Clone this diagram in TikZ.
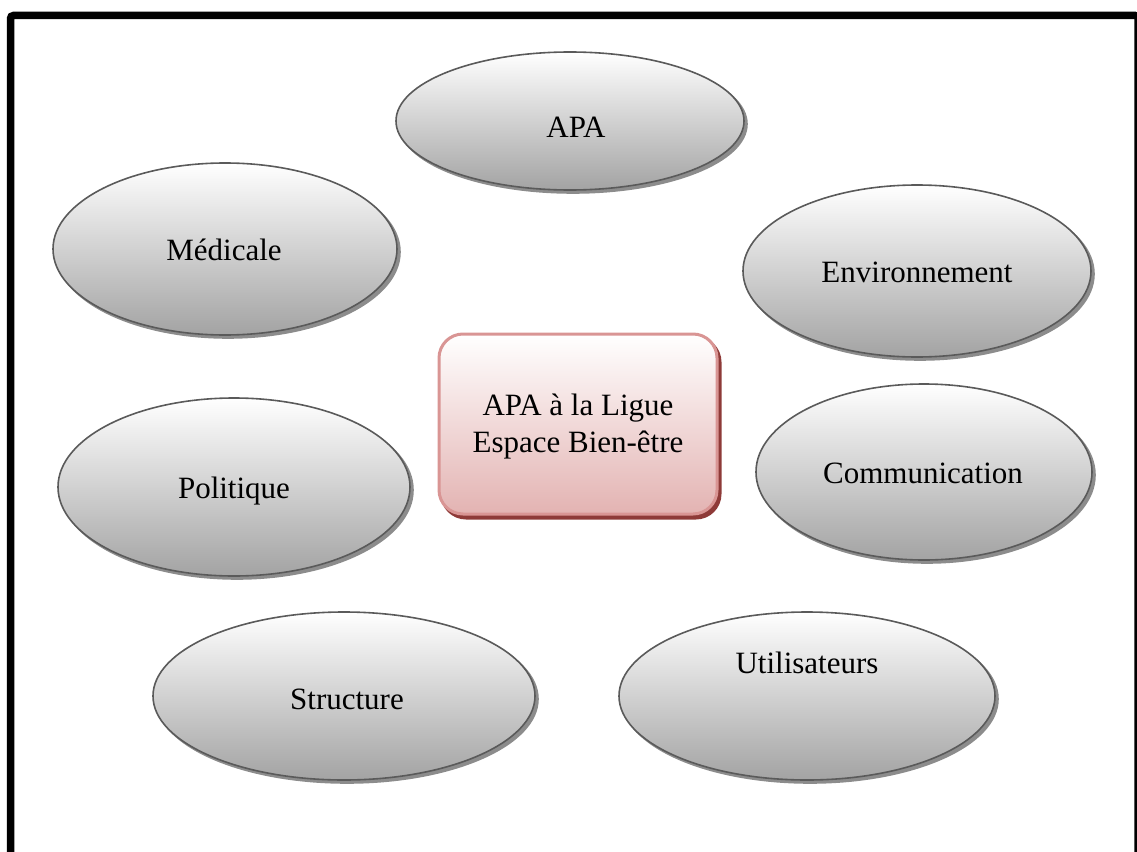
\documentclass[tikz,border=0pt]{standalone}
\usepackage{fontspec}
\setmainfont{Liberation Serif}
\usetikzlibrary{shapes.geometric,shadows}
\definecolor{ellline}{HTML}{5A5A5A}
\definecolor{ellbot}{HTML}{A3A3A3}
\definecolor{ellshadow}{HTML}{8C8C8C}
\definecolor{boxline}{HTML}{D99594}
\definecolor{boxbot}{HTML}{E3B3B2}
\definecolor{boxshadow}{HTML}{8E3A38}
\tikzset{
  oval/.style={ellipse, inner sep=0pt, draw=ellline, line width=1.6pt,
    top color=white, bottom color=ellbot,
    general shadow={shadow xshift=3pt, shadow yshift=-3pt, fill=ellshadow, draw=ellshadow}},
  lbl/.style={anchor=base, inner sep=0pt, font=\fontsize{31}{36}\selectfont},
  centerbox/.style={rectangle, rounded corners=24pt, draw=boxline, line width=3pt,
    top color=white, bottom color=boxbot, inner sep=0pt,
    general shadow={shadow xshift=3pt, shadow yshift=-4pt, fill=boxshadow, draw=boxshadow}},
}
\begin{document}
\begin{tikzpicture}[x=1pt,y=-1pt]
\useasboundingbox (0,0) rectangle (1137,851);
\begin{scope}
\clip (0,0) rectangle (1137,851);
\draw[line width=7.5pt, rounded corners=3pt] (10.5,15.5) rectangle (1138,870);
\end{scope}
% ellipses
\node[oval, minimum width=348pt, minimum height=138pt] (apa) at (570,121) {};
\node[oval, minimum width=344pt, minimum height=172pt] (med) at (225,249) {};
\node[oval, minimum width=348pt, minimum height=172pt] (env) at (917,271) {};
\node[oval, minimum width=352pt, minimum height=178pt] (pol) at (234,487) {};
\node[oval, minimum width=336pt, minimum height=176pt] (com) at (924,472) {};
\node[oval, minimum width=382pt, minimum height=168pt] (str) at (344,696) {};
\node[oval, minimum width=376pt, minimum height=168pt] (uti) at (807,696) {};
% labels
\node[lbl] (tapa) at (576,137) {APA};
\node[lbl] (tmed) at (224,260) {Médicale};
\node[lbl] (tenv) at (917,282) {Environnement};
\node[lbl] (tpol) at (234,498) {Politique};
\node[lbl] (tcom) at (923,483) {Communication};
\node[lbl] (tstr) at (347,709) {Structure};
\node[lbl] (tuti) at (807,673) {Utilisateurs};
% center box
\node[centerbox, minimum width=278pt, minimum height=180pt] (box) at (578,424) {};
\node[align=center, inner sep=0pt, font=\fontsize{31}{37}\selectfont] (tbox) at (578,427) {APA à la Ligue\\Espace Bien-être};
\end{tikzpicture}
\end{document}
